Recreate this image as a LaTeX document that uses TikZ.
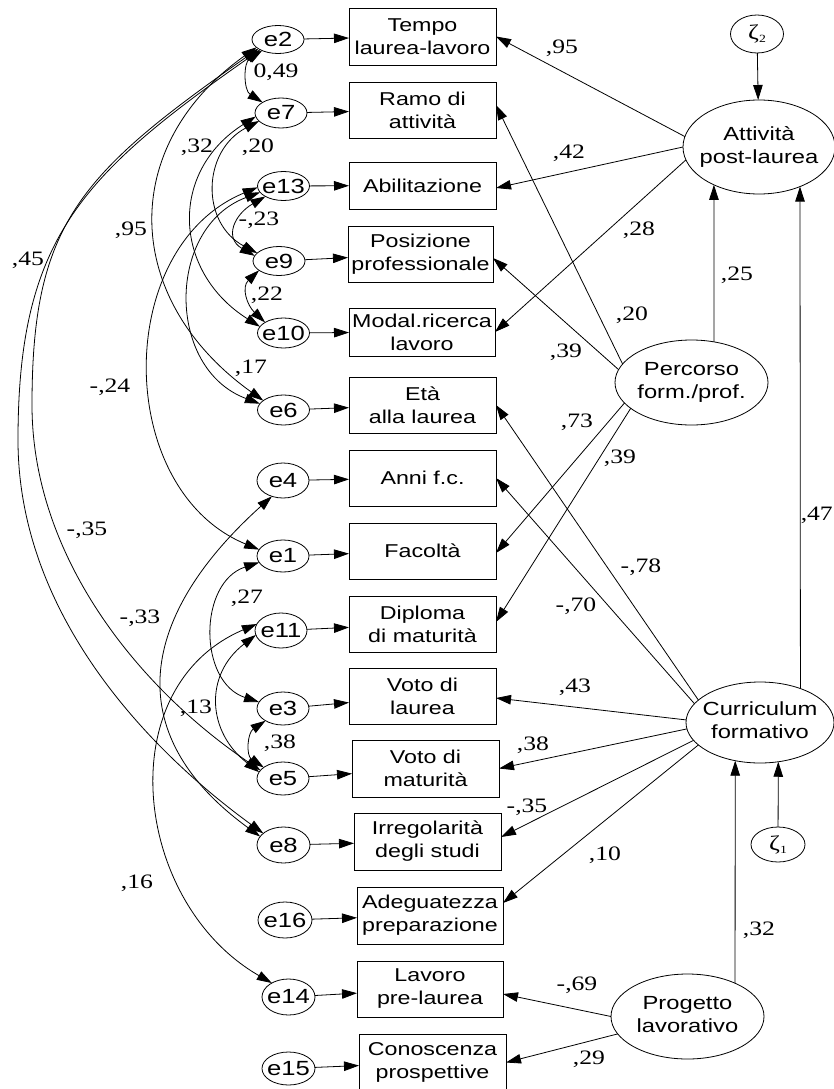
\documentclass[tikz,border=0pt]{standalone}
\usepackage{fontspec}
\setmainfont{Liberation Serif}[FakeStretch=1.25]
\newfontfamily\sansfam{Liberation Sans}[FakeStretch=1.25]
\usetikzlibrary{shapes.geometric,arrows.meta}
\newcommand{\twol}[2]{\makebox[0pt]{\begin{tabular}{@{}c@{}}#1\\#2\end{tabular}}}
\newcommand{\zet}[1]{\makebox[0pt]{ζ\raisebox{-3pt}{\fontsize{11}{11}\selectfont #1}}}
\begin{document}
\begin{tikzpicture}[x=1pt,y=-1pt,
  >={Triangle[length=15pt,width=9.5pt]},
  ln/.style={line width=0.8pt,black},
  arr/.style={ln,->},
  cov/.style={ln,<->},
  obs/.style={draw,line width=0.8pt,rectangle,inner sep=0pt,outer sep=0pt,minimum width=147pt,minimum height=57pt,align=center,font=\sansfam\fontsize{18.6}{23}\selectfont},
  err/.style={draw,line width=0.8pt,ellipse,inner sep=0pt,outer sep=0pt,minimum width=52pt,minimum height=32pt,font=\sansfam\fontsize{20.5}{23}\selectfont},
  lat/.style={draw,line width=0.8pt,ellipse,inner sep=0pt,outer sep=0pt,font=\sansfam\fontsize{19}{23}\selectfont},
  zeta/.style={draw,line width=0.8pt,ellipse,inner sep=0pt,outer sep=0pt,font=\fontsize{21}{23}\selectfont},
  coef/.style={inner sep=0pt,font=\fontsize{20.5}{24}\selectfont},
]
\fill[white] (0,0) rectangle (834,1089);
\useasboundingbox (0,0) rectangle (834,1089);

% observed variables
\node[obs] (tempo) at (422.5,36.5) {Tempo\\laurea-lavoro};
\node[obs,minimum height=56pt] (ramo) at (422.5,110) {Ramo di\\attività};
\node[obs,minimum height=47pt] (abil) at (422.5,185.5) {Abilitazione};
\node[obs,minimum width=145pt,minimum height=56pt] (posiz) at (420.5,254) {Posizione\\professionale};
\node[obs,minimum width=146pt,minimum height=48pt] (modal) at (422,332) {Modal.ricerca\\lavoro};
\node[obs,minimum height=56pt] (eta) at (422.5,405) {Età\\alla laurea};
\node[obs,minimum height=56pt] (anni) at (422.5,478) {Anni f.c.};
\node[obs,minimum height=56pt] (facol) at (422.5,551) {Facoltà};
\node[obs,minimum height=56pt] (diplo) at (422.5,624) {Diploma\\di maturità};
\node[obs,minimum height=56pt] (vlaur) at (422.5,696) {Voto di\\laurea};
\node[obs] (vmat) at (425.5,768.5) {Voto di\\maturità};
\node[obs] (irreg) at (427.5,841.5) {Irregolarità\\degli studi};
\node[obs,minimum width=146pt] (adeg) at (430,915.5) {Adeguatezza\\preparazione};
\node[obs,minimum width=146pt,minimum height=56pt] (lavoro) at (430,989) {Lavoro\\pre-laurea};
\node[obs] (conosc) at (432.5,1062.5) {Conoscenza\\prospettive};

% error terms
\node[err,minimum height=28pt] (e2) at (278,39.5) {\makebox[0pt]{e2}};
\node[err,minimum height=30pt] (e7) at (281,113) {\makebox[0pt]{e7}};
\node[err,minimum height=29pt] (e13) at (283.5,186) {\makebox[0pt]{e13}};
\node[err,minimum height=29pt] (e9) at (279,261) {\makebox[0pt]{e9}};
\node[err,minimum height=30pt] (e10) at (283.5,333) {\makebox[0pt]{e10}};
\node[err,minimum height=30pt] (e6) at (283.5,410) {\makebox[0pt]{e6}};
\node[err,minimum height=35pt] (e4) at (283,480.5) {\makebox[0pt]{e4}};
\node[err] (e1) at (283,556) {\makebox[0pt]{e1}};
\node[err,minimum height=35pt] (e11) at (281,630.5) {\makebox[0pt]{e11}};
\node[err,minimum height=33pt] (e3) at (283,708.5) {\makebox[0pt]{e3}};
\node[err,minimum height=33pt] (e5) at (283,778.5) {\makebox[0pt]{e5}};
\node[err,minimum width=53pt,minimum height=36pt] (e8) at (283.5,845) {\makebox[0pt]{e8}};
\node[err,minimum width=54pt,minimum height=36pt] (e16) at (285,920) {\makebox[0pt]{e16}};
\node[err,minimum width=53pt,minimum height=36pt] (e14) at (288.5,997) {\makebox[0pt]{e14}};
\node[err,minimum width=53pt,minimum height=33pt] (e15) at (288.5,1068.5) {\makebox[0pt]{e15}};

% latent variables
\node[lat,minimum width=152pt,minimum height=94pt] (att) at (759,147) {\twol{Attività}{post-laurea}};
\node[lat,minimum width=153pt,minimum height=85pt] (perc) at (691.5,382.5) {\twol{Percorso}{form./prof.}};
\node[lat,minimum width=148pt,minimum height=81pt] (curr) at (760,722.5) {\twol{Curriculum}{formativo}};
\node[lat,minimum width=153pt,minimum height=85pt] (prog) at (687.5,1016.5) {\twol{Progetto}{lavorativo}};
\node[zeta,minimum width=53pt,minimum height=38pt] (z2) at (757,34) {\zet{2}};
\node[zeta,minimum width=54pt,minimum height=35pt] (z1) at (778,844.5) {\zet{1}};

% error -> observed
\draw[arr] (e2) -- (tempo);
\draw[arr] (e7) -- (ramo);
\draw[arr] (e13) -- (abil);
\draw[arr] (e9) -- (posiz);
\draw[arr] (e10) -- (modal);
\draw[arr] (e6) -- (eta);
\draw[arr] (e4) -- (anni);
\draw[arr] (e1) -- (facol);
\draw[arr] (e11) -- (diplo);
\draw[arr] (e3) -- (vlaur);
\draw[arr] (e5) -- (vmat);
\draw[arr] (e8) -- (irreg);
\draw[arr] (e16) -- (adeg);
\draw[arr] (e14) -- (lavoro);
\draw[arr] (e15) -- (conosc);

% structural paths
\draw[arr] (z2) -- (att);
\draw[arr] (att.172) -- (tempo.east);
\draw[arr] (att.180) -- ([yshift=-2.5pt]abil.east);
\draw[arr] (att.190) -- (modal.east);
\draw[arr] (perc.165) -- ([yshift=5pt]ramo.east);
\draw[arr] (perc.170) -- ([yshift=-4pt]posiz.east);
\draw[arr] (perc.61) -- (att.220);
\draw[arr] (perc.197) -- ([yshift=-2pt]facol.east);
\draw[arr] (perc.203) -- ([yshift=2pt]diplo.east);
\draw[arr] (curr.40) -- (att.316);
\draw[arr] (curr.160) -- (eta.east);
\draw[arr] (curr.164) -- (anni.east);
\draw[arr] (curr.178) -- ([yshift=-2pt]vlaur.east);
\draw[arr] (curr.185) -- (vmat.east);
\draw[arr] (curr.195) -- ([yshift=4.5pt]irreg.east);
\draw[arr] (curr.200) -- ([yshift=12.5pt]adeg.east);
\draw[arr] (z1) -- (curr.295);
\draw[arr] (prog.35) -- (curr.237);
\draw[arr] (prog.180) -- ([yshift=-5pt]lavoro.east);
\draw[arr] (prog.194) -- (conosc.east);

% covariances
\draw[cov] (e2.215) .. controls +(-19,12) and +(-19,-12) .. (e7.150);
\draw[cov] (e7.200) .. controls +(-57,30) and +(-57,-30) .. (e9.160);
\draw[cov] (e7.188) .. controls +(-87,55) and +(-87,-55) .. (e10.165);
\draw[cov] (e13.210) .. controls +(-31,18) and +(-31,-18) .. (e9.168);
\draw[cov] (e9.205) .. controls +(-18,17) and +(-18,-17) .. (e10.150);
\draw[cov] (e13.195) .. controls +(-94,35) and +(-94,-35) .. (e6.165);
\draw[cov] (e2.200) .. controls +(-140,100) and +(-140,-100) .. (e6.155);
\draw[cov] (e13.183) .. controls +(-145,60) and +(-145,-60) .. (e1.165);
\draw[cov] (e2.205) .. controls +(-180,126) and +(0,-180) .. (32,405) .. controls +(0,150) and +(-124,-84) .. (e5.160);
\draw[cov] (e2.210) .. controls +(-180,126) and +(0,-200) .. (18,440) .. controls +(0,170) and +(-121,-88) .. (e8.150);
\draw[cov] (e4.235) .. controls +(-131,118) and +(-143,-104) .. (e8.160);
\draw[cov] (e11.165) .. controls +(-148,63) and +(-139,-80) .. (e14.140);
\draw[cov] (e11.190) .. controls +(-52,40) and +(-52,-40) .. (e5.165);
\draw[cov] (e1.195) .. controls +(-61,20) and +(-61,-20) .. (e3.165);
\draw[cov] (e3.215) .. controls +(-18,12) and +(-18,-12) .. (e5.150);

% coefficients (right)
\node[coef] (c1) at (562,48) {,95};
\node[coef] (c2) at (569,153) {,42};
\node[coef] (c3) at (639,230) {,28};
\node[coef] (c4) at (737,275) {,25};
\node[coef] (c5) at (632,315) {,20};
\node[coef] (c6) at (566,352) {,39};
\node[coef] (c7) at (577,422) {,73};
\node[coef] (c8) at (620,458) {,39};
\node[coef,anchor=east] (c9) at (833,515) {,47};
\node[coef] (c10) at (641,567) {-,78};
\node[coef] (c11) at (576,606) {-,70};
\node[coef] (c12) at (575,687) {,43};
\node[coef] (c13) at (533,745) {,38};
\node[coef] (c14) at (527,807) {-,35};
\node[coef] (c15) at (605,855) {,10};
\node[coef] (c16) at (759,930) {,32};
\node[coef] (c17) at (577,985) {-,69};
\node[coef] (c18) at (589,1059) {,29};
% coefficients (left)
\node[coef] (d1) at (276,72) {0,49};
\node[coef] (d2) at (197,147) {,32};
\node[coef] (d3) at (258,147) {,20};
\node[coef] (d4) at (259,220) {-,23};
\node[coef] (d5) at (267,295) {,22};
\node[coef] (d6) at (251,368) {,17};
\node[coef] (d7) at (131,230) {,95};
\node[coef] (d8) at (28,260) {,45};
\node[coef] (d9) at (110,387) {-,24};
\node[coef] (d10) at (87,530) {-,35};
\node[coef] (d11) at (140,618) {-,33};
\node[coef] (d12) at (247,598) {,27};
\node[coef] (d13) at (196,708) {,13};
\node[coef] (d14) at (280,743) {,38};
\node[coef] (d15) at (137,883) {,16};
\end{tikzpicture}
\end{document}
